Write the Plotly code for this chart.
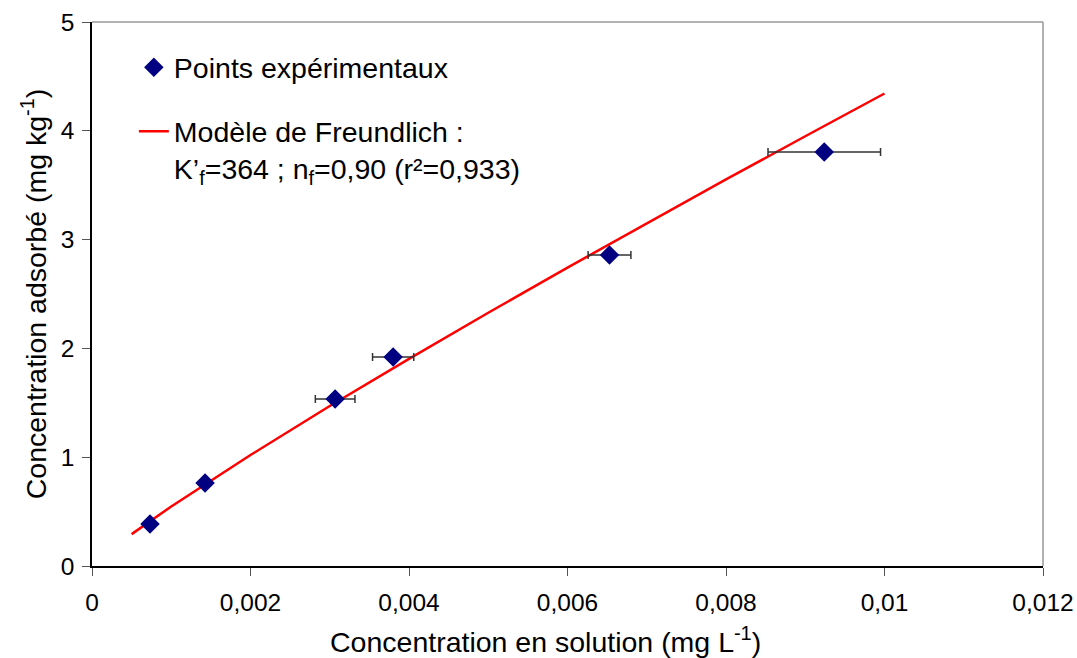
import plotly.graph_objects as go

# Experimental points
x_exp = [0.000732, 0.001427, 0.003068, 0.0038, 0.00653, 0.00924]
y_exp = [0.386, 0.763, 1.535, 1.921, 2.858, 3.805]
x_err = [0.0, 0.0, 0.00025, 0.00026, 0.00027, 0.00071]

# Freundlich model curve
x_fit = [0.0005, 0.001, 0.002, 0.003, 0.004, 0.005, 0.006, 0.007, 0.008, 0.009, 0.01]
y_fit = [0.293, 0.547, 1.020, 1.470, 1.904, 2.328, 2.743, 3.151, 3.553, 3.950, 4.343]

x_ticks = [0, 0.002, 0.004, 0.006, 0.008, 0.01, 0.012]
x_ticklabels = ["0", "0,002", "0,004", "0,006", "0,008", "0,01", "0,012"]
y_ticks = [0, 1, 2, 3, 4, 5]

FONT = "Liberation Sans, Arial, sans-serif"

fig = go.Figure()
fig.add_trace(go.Scatter(
    x=x_fit, y=y_fit, mode="lines",
    name="Modèle de Freundlich :<br>K’<sub>f</sub>=364 ; n<sub>f</sub>=0,90 (r²=0,933)",
    legendgroup="b", legendrank=2,
    line=dict(color="#ff0000", width=2.5),
))
fig.add_trace(go.Scatter(
    x=x_exp, y=y_exp, mode="markers",
    name="Points expérimentaux",
    legendgroup="a", legendrank=1,
    marker=dict(symbol="diamond", size=15, color="#000080"),
    error_x=dict(type="data", array=x_err, visible=True, color="#333333",
                 thickness=1.5, width=4),
))

fig.update_layout(
    width=1077, height=658,
    margin=dict(l=92, r=34, t=22, b=92),
    paper_bgcolor="white", plot_bgcolor="white",
    font=dict(family=FONT, size=24, color="black"),
    showlegend=True,
    legend=dict(
        x=0.044, y=0.963, xanchor="left", yanchor="top",
        traceorder="grouped", tracegroupgap=24,
        valign="top",
        font=dict(family=FONT, size=28.5, color="black"),
        bgcolor="rgba(0,0,0,0)",
    ),
    xaxis=dict(
        range=[0, 0.012], tickvals=x_ticks, ticktext=x_ticklabels,
        automargin=False,
        showgrid=False, zeroline=False, showline=True, linecolor="black",
        linewidth=1.5, ticks="outside", ticklen=8, tickcolor="#555555",
        tickfont=dict(size=24.5), ticklabelstandoff=6,
    ),
    yaxis=dict(
        range=[0, 5], tickvals=y_ticks,
        automargin=False,
        showgrid=False, zeroline=False, showline=True, linecolor="black",
        linewidth=1.5, ticks="outside", ticklen=8, tickcolor="#555555",
        tickfont=dict(size=24.5), ticklabelstandoff=3,
        title=dict(text="Concentration adsorbé (mg kg<sup>-1</sup>)",
                   font=dict(size=28.5), standoff=6),
    ),
    annotations=[
        dict(text="Concentration en solution (mg L<sup>-1</sup>)",
             xref="paper", yref="paper", x=0.477, y=-0.136,
             xanchor="center", yanchor="middle", showarrow=False,
             font=dict(size=28.5, family=FONT, color="black")),
    ],
    shapes=[
        dict(type="line", xref="paper", yref="paper", x0=0, x1=1, y0=1, y1=1,
             line=dict(color="#999999", width=1.5)),
        dict(type="line", xref="paper", yref="paper", x0=1, x1=1, y0=0, y1=1,
             line=dict(color="#999999", width=1.5)),
    ],
)

fig.write_html("out.html", config={"displayModeBar": False},
               post_script="document.body.style.margin='0px';")
